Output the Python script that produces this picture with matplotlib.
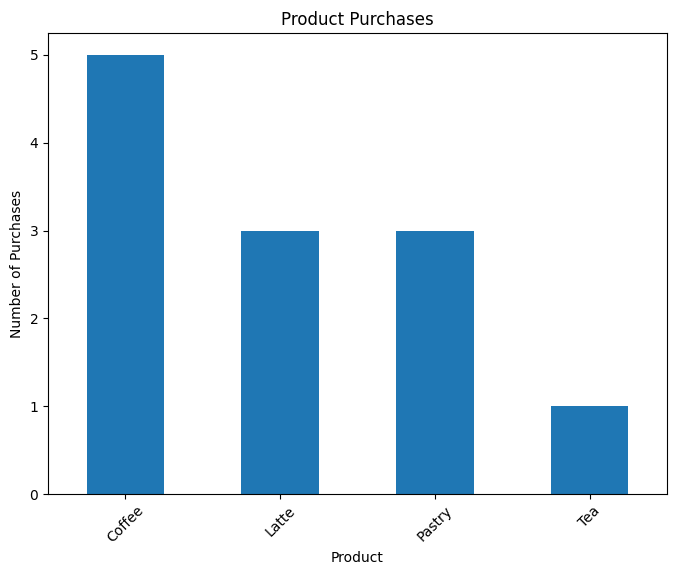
import matplotlib
matplotlib.use("Agg")
import matplotlib.pyplot as plt

products = ["Coffee", "Latte", "Pastry", "Tea"]
purchases = [5, 3, 3, 1]

fig = plt.figure(figsize=(6.78, 5.75), dpi=100)
ax = fig.add_axes([48/678, 1-494/575, (667-48)/678, (494-33)/575])
x = range(len(products))
ax.bar(x, purchases, width=0.5, color="#1f77b4")
ax.set_xticks(list(x))
ax.set_xticklabels(products, rotation=45)
ax.set_xlim(-0.5, len(products) - 0.5)
ax.set_ylim(0, 5.25)
ax.set_title("Product Purchases")
ax.set_xlabel("Product")
ax.set_ylabel("Number of Purchases")
fig.savefig("out.png", dpi=100)
